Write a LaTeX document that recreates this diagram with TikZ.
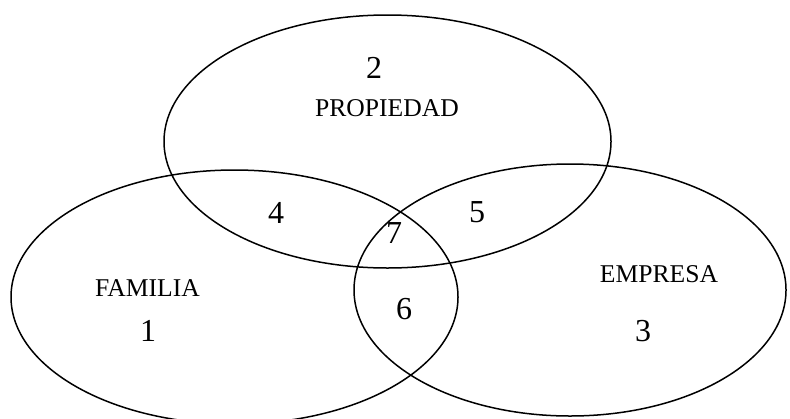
\documentclass[tikz,border=0pt]{standalone}
\usepackage{fontspec}
\setmainfont{Liberation Serif}
\begin{document}
\begin{tikzpicture}[x=0.5pt,y=-0.5pt,
  ring/.style={draw=black,line width=0.75pt},
  word/.style={inner sep=0pt,font=\fontsize{12.8}{14}\selectfont},
  num/.style={inner sep=0pt,font=\fontsize{16}{18}\selectfont}]
\useasboundingbox (0,0) rectangle (790,418);
\clip (0,0) rectangle (790,418);
\fill[white] (0,0) rectangle (790,418);
% ellipses
\draw[ring] (387.5,141.5) ellipse [x radius=111.75pt, y radius=63.25pt];
\draw[ring] (234.5,297) ellipse [x radius=111.75pt, y radius=63.5pt];
\draw[ring] (570,290) ellipse [x radius=108pt, y radius=63pt];
% labels
\node[num] (n2) at (374,68) {2};
\node[word] (prop) at (387,108) {PROPIEDAD};
\node[word] (fam) at (147.5,288) {FAMILIA};
\node[num] (n1) at (148,331) {1};
\node[word] (emp) at (659,274) {EMPRESA};
\node[num] (n3) at (643,331) {3};
\node[num] (n4) at (276,213) {4};
\node[num] (n5) at (477,212) {5};
\node[num] (n7) at (394,233) {7};
\node[num] (n6) at (404,309) {6};
\end{tikzpicture}
\end{document}
